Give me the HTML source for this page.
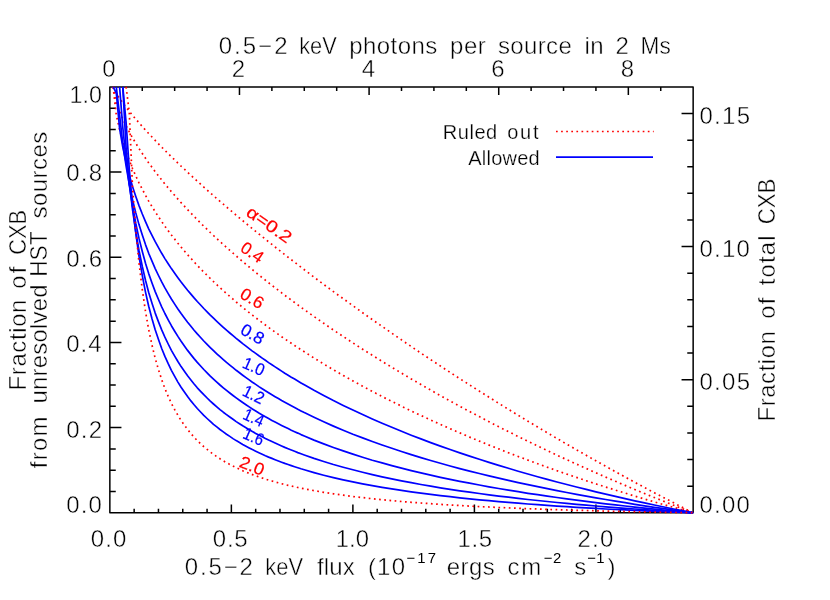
<!DOCTYPE html>
<html><head><meta charset="utf-8"><title>CXB fraction</title>
<style>html,body{margin:0;padding:0;background:#fff}body{width:830px;height:600px;overflow:hidden;font-family:"Liberation Sans",sans-serif}svg{display:block;will-change:transform}text{font-family:"Liberation Sans",sans-serif;fill:#000}.t{font-size:24px}.s{font-size:20px}.l{font-size:17px}.r{fill:#f00;stroke:#f00;stroke-width:.2}.b{fill:#00f;stroke:#00f;stroke-width:.2}</style></head><body>
<svg width="830" height="600" viewBox="0 0 830 600">
<rect width="830" height="600" fill="#fff"/>
<path d="M109.85,86.90H693.15V512.80H109.85ZM134.15,512.80v-4.10M158.46,512.80v-4.10M182.76,512.80v-4.10M207.07,512.80v-4.10M231.37,512.80v-8.20M255.68,512.80v-4.10M279.98,512.80v-4.10M304.28,512.80v-4.10M328.59,512.80v-4.10M352.89,512.80v-8.20M377.20,512.80v-4.10M401.50,512.80v-4.10M425.80,512.80v-4.10M450.11,512.80v-4.10M474.41,512.80v-8.20M498.72,512.80v-4.10M523.02,512.80v-4.10M547.33,512.80v-4.10M571.63,512.80v-4.10M595.93,512.80v-8.20M620.24,512.80v-4.10M644.54,512.80v-4.10M668.85,512.80v-4.10M142.26,86.90v4.10M174.66,86.90v4.10M207.07,86.90v4.10M239.47,86.90v8.20M271.88,86.90v4.10M304.28,86.90v4.10M336.69,86.90v4.10M369.09,86.90v8.20M401.50,86.90v4.10M433.91,86.90v4.10M466.31,86.90v4.10M498.72,86.90v8.20M531.12,86.90v4.10M563.53,86.90v4.10M595.93,86.90v4.10M628.34,86.90v8.20M660.74,86.90v4.10M109.85,512.80h11.60M109.85,491.50h5.90M109.85,470.21h5.90M109.85,448.91h5.90M109.85,427.62h11.60M109.85,406.32h5.90M109.85,385.03h5.90M109.85,363.73h5.90M109.85,342.44h11.60M109.85,321.14h5.90M109.85,299.85h5.90M109.85,278.55h5.90M109.85,257.26h11.60M109.85,235.96h5.90M109.85,214.67h5.90M109.85,193.38h5.90M109.85,172.08h11.60M109.85,150.78h5.90M109.85,129.49h5.90M109.85,108.19h5.90M109.85,86.90h11.60M693.15,512.80h-11.60M693.15,486.18h-5.90M693.15,459.56h-5.90M693.15,432.94h-5.90M693.15,406.32h-5.90M693.15,379.71h-11.60M693.15,353.09h-5.90M693.15,326.47h-5.90M693.15,299.85h-5.90M693.15,273.23h-5.90M693.15,246.61h-11.60M693.15,219.99h-5.90M693.15,193.37h-5.90M693.15,166.76h-5.90M693.15,140.14h-5.90M693.15,113.52h-11.60M693.15,86.90h-5.90" fill="none" stroke="#000" stroke-width="1.5" stroke-linejoin="round"/>
<g fill="none" stroke-width="1.7" stroke="#f00" stroke-dasharray="1.7 3.5" stroke-linejoin="round">
<path d="M113.1,86.9 116.3,93.8 119.6,98.5 122.8,103.0 126.1,107.2 129.3,111.3 132.5,115.3 135.8,119.1 139.0,122.8 142.3,126.5 145.5,130.1 148.7,133.6 152.0,137.0 155.2,140.4 158.5,143.8 161.7,147.1 164.9,150.4 168.2,153.6 171.4,156.8 174.7,159.9 177.9,163.1 181.1,166.2 184.4,169.2 187.6,172.3 190.9,175.3 194.1,178.3 197.3,181.2 200.6,184.2 203.8,187.1 207.1,190.0 210.3,192.9 213.5,195.7 216.8,198.6 220.0,201.4 223.3,204.2 226.5,207.0 229.8,209.7 233.0,212.5 236.2,215.2 239.5,218.0 242.7,220.7 246.0,223.4 249.2,226.0 252.4,228.7 255.7,231.4 258.9,234.0 262.2,236.6 265.4,239.2 268.6,241.8 271.9,244.4 275.1,247.0 278.4,249.6 281.6,252.1 284.8,254.7 288.1,257.2 291.3,259.7 294.6,262.2 297.8,264.7 301.0,267.2 304.3,269.7 314.0,277.1 323.7,284.4 333.4,291.6 343.2,298.7 352.9,305.7 362.6,312.7 372.3,319.6 382.1,326.4 391.8,333.2 401.5,339.9 411.2,346.5 420.9,353.1 430.7,359.6 440.4,366.0 450.1,372.4 459.8,378.7 469.6,384.9 479.3,391.1 489.0,397.2 498.7,403.3 508.4,409.3 518.2,415.3 527.9,421.2 537.6,427.0 547.3,432.8 557.0,438.5 566.8,444.2 576.5,449.8 586.2,455.3 595.9,460.8 605.7,466.3 615.4,471.7 625.1,477.0 634.8,482.3 644.5,487.5 654.3,492.7 664.0,497.8 673.7,502.8 683.4,507.9 693.1,512.8"/>
<path d="M113.1,86.9 116.3,103.0 119.6,111.5 122.8,119.0 126.1,125.7 129.3,131.9 132.5,137.8 135.8,143.2 139.0,148.5 142.3,153.5 145.5,158.2 148.7,162.9 152.0,167.3 155.2,171.7 158.5,175.9 161.7,180.0 164.9,184.0 168.2,187.9 171.4,191.7 174.7,195.4 177.9,199.1 181.1,202.7 184.4,206.2 187.6,209.7 190.9,213.1 194.1,216.4 197.3,219.7 200.6,223.0 203.8,226.2 207.1,229.3 210.3,232.5 213.5,235.5 216.8,238.6 220.0,241.6 223.3,244.5 226.5,247.4 229.8,250.3 233.0,253.2 236.2,256.0 239.5,258.8 242.7,261.6 246.0,264.3 249.2,267.0 252.4,269.7 255.7,272.4 258.9,275.0 262.2,277.6 265.4,280.2 268.6,282.8 271.9,285.3 275.1,287.8 278.4,290.3 281.6,292.8 284.8,295.3 288.1,297.7 291.3,300.1 294.6,302.5 297.8,304.9 301.0,307.3 304.3,309.6 314.0,316.5 323.7,323.3 333.4,330.0 343.2,336.5 352.9,342.9 362.6,349.2 372.3,355.3 382.1,361.4 391.8,367.3 401.5,373.1 411.2,378.9 420.9,384.5 430.7,390.1 440.4,395.6 450.1,401.0 459.8,406.3 469.6,411.5 479.3,416.6 489.0,421.7 498.7,426.7 508.4,431.6 518.2,436.5 527.9,441.3 537.6,446.0 547.3,450.6 557.0,455.2 566.8,459.7 576.5,464.1 586.2,468.5 595.9,472.8 605.7,477.1 615.4,481.3 625.1,485.4 634.8,489.5 644.5,493.5 654.3,497.5 664.0,501.4 673.7,505.3 683.4,509.1 693.1,512.8"/>
<path d="M113.1,86.9 116.3,115.1 119.6,129.5 122.8,141.3 126.1,151.4 129.3,160.4 132.5,168.5 135.8,175.9 139.0,182.8 142.3,189.3 145.5,195.3 148.7,201.1 152.0,206.6 155.2,211.8 158.5,216.8 161.7,221.6 164.9,226.2 168.2,230.7 171.4,235.0 174.7,239.1 177.9,243.2 181.1,247.1 184.4,251.0 187.6,254.7 190.9,258.3 194.1,261.9 197.3,265.4 200.6,268.8 203.8,272.1 207.1,275.3 210.3,278.5 213.5,281.6 216.8,284.7 220.0,287.7 223.3,290.6 226.5,293.5 229.8,296.4 233.0,299.2 236.2,302.0 239.5,304.7 242.7,307.4 246.0,310.0 249.2,312.6 252.4,315.1 255.7,317.7 258.9,320.1 262.2,322.6 265.4,325.0 268.6,327.4 271.9,329.8 275.1,332.1 278.4,334.4 281.6,336.7 284.8,338.9 288.1,341.1 291.3,343.3 294.6,345.5 297.8,347.6 301.0,349.7 304.3,351.8 314.0,358.0 323.7,364.0 333.4,369.8 343.2,375.4 352.9,380.9 362.6,386.2 372.3,391.4 382.1,396.5 391.8,401.4 401.5,406.2 411.2,410.9 420.9,415.5 430.7,420.0 440.4,424.4 450.1,428.7 459.8,432.9 469.6,437.1 479.3,441.1 489.0,445.1 498.7,448.9 508.4,452.7 518.2,456.5 527.9,460.1 537.6,463.7 547.3,467.2 557.0,470.7 566.8,474.1 576.5,477.4 586.2,480.7 595.9,483.9 605.7,487.0 615.4,490.1 625.1,493.1 634.8,496.1 644.5,499.0 654.3,501.9 664.0,504.7 673.7,507.4 683.4,510.1 693.1,512.8"/>
</g>
<g fill="none" stroke-width="1.7" stroke="#00f" stroke-linejoin="round">
<path d="M113.1,86.9 116.3,93.0 119.6,128.6 122.8,147.1 126.1,162.3 129.3,175.2 132.5,186.5 135.8,196.5 139.0,205.6 142.3,214.0 145.5,221.6 148.7,228.8 152.0,235.4 155.2,241.7 158.5,247.6 161.7,253.3 164.9,258.6 168.2,263.7 171.4,268.6 174.7,273.2 177.9,277.7 181.1,282.0 184.4,286.2 187.6,290.2 190.9,294.1 194.1,297.9 197.3,301.5 200.6,305.0 203.8,308.5 207.1,311.8 210.3,315.1 213.5,318.2 216.8,321.3 220.0,324.3 223.3,327.3 226.5,330.2 229.8,333.0 233.0,335.7 236.2,338.4 239.5,341.0 242.7,343.6 246.0,346.1 249.2,348.6 252.4,351.1 255.7,353.4 258.9,355.8 262.2,358.1 265.4,360.3 268.6,362.6 271.9,364.8 275.1,366.9 278.4,369.0 281.6,371.1 284.8,373.2 288.1,375.2 291.3,377.2 294.6,379.1 297.8,381.0 301.0,382.9 304.3,384.8 314.0,390.3 323.7,395.5 333.4,400.6 343.2,405.4 352.9,410.1 362.6,414.6 372.3,419.0 382.1,423.2 391.8,427.3 401.5,431.3 411.2,435.2 420.9,438.9 430.7,442.6 440.4,446.1 450.1,449.5 459.8,452.9 469.6,456.1 479.3,459.3 489.0,462.4 498.7,465.4 508.4,468.3 518.2,471.2 527.9,474.0 537.6,476.7 547.3,479.4 557.0,482.0 566.8,484.5 576.5,487.0 586.2,489.4 595.9,491.8 605.7,494.1 615.4,496.4 625.1,498.6 634.8,500.8 644.5,502.9 654.3,505.0 664.0,507.0 673.7,509.0 683.4,510.9 693.1,512.8"/>
<path d="M116.3,86.9 119.6,115.1 122.8,143.8 126.1,166.1 129.3,184.2 132.5,199.6 135.8,212.9 139.0,224.6 142.3,235.1 145.5,244.6 148.7,253.3 152.0,261.2 155.2,268.6 158.5,275.5 161.7,281.9 164.9,287.9 168.2,293.6 171.4,299.0 174.7,304.1 177.9,309.0 181.1,313.6 184.4,318.0 187.6,322.2 190.9,326.3 194.1,330.2 197.3,333.9 200.6,337.5 203.8,341.0 207.1,344.4 210.3,347.6 213.5,350.7 216.8,353.8 220.0,356.7 223.3,359.6 226.5,362.4 229.8,365.1 233.0,367.7 236.2,370.3 239.5,372.8 242.7,375.2 246.0,377.6 249.2,379.9 252.4,382.2 255.7,384.4 258.9,386.6 262.2,388.7 265.4,390.8 268.6,392.8 271.9,394.8 275.1,396.7 278.4,398.6 281.6,400.5 284.8,402.3 288.1,404.1 291.3,405.8 294.6,407.6 297.8,409.3 301.0,410.9 304.3,412.6 314.0,417.3 323.7,421.8 333.4,426.1 343.2,430.2 352.9,434.2 362.6,437.9 372.3,441.5 382.1,445.0 391.8,448.3 401.5,451.5 411.2,454.6 420.9,457.6 430.7,460.5 440.4,463.3 450.1,466.0 459.8,468.6 469.6,471.1 479.3,473.5 489.0,475.9 498.7,478.2 508.4,480.4 518.2,482.6 527.9,484.7 537.6,486.7 547.3,488.7 557.0,490.6 566.8,492.5 576.5,494.3 586.2,496.1 595.9,497.8 605.7,499.5 615.4,501.1 625.1,502.7 634.8,504.3 644.5,505.8 654.3,507.3 664.0,508.7 673.7,510.1 683.4,511.5 693.1,512.8"/>
<path d="M119.6,86.9 122.8,127.5 126.1,159.9 129.3,185.2 132.5,205.9 135.8,223.4 139.0,238.4 142.3,251.5 145.5,263.2 148.7,273.6 152.0,283.0 155.2,291.6 158.5,299.5 161.7,306.8 164.9,313.5 168.2,319.8 171.4,325.7 174.7,331.2 177.9,336.4 181.1,341.3 184.4,346.0 187.6,350.4 190.9,354.6 194.1,358.6 197.3,362.4 200.6,366.0 203.8,369.5 207.1,372.8 210.3,376.1 213.5,379.1 216.8,382.1 220.0,385.0 223.3,387.8 226.5,390.4 229.8,393.0 233.0,395.5 236.2,397.9 239.5,400.3 242.7,402.5 246.0,404.7 249.2,406.9 252.4,409.0 255.7,411.0 258.9,413.0 262.2,414.9 265.4,416.8 268.6,418.6 271.9,420.4 275.1,422.1 278.4,423.8 281.6,425.4 284.8,427.0 288.1,428.6 291.3,430.2 294.6,431.7 297.8,433.1 301.0,434.6 304.3,436.0 314.0,440.1 323.7,443.9 333.4,447.5 343.2,450.9 352.9,454.1 362.6,457.2 372.3,460.2 382.1,462.9 391.8,465.6 401.5,468.1 411.2,470.6 420.9,472.9 430.7,475.1 440.4,477.3 450.1,479.3 459.8,481.3 469.6,483.2 479.3,485.0 489.0,486.8 498.7,488.5 508.4,490.1 518.2,491.7 527.9,493.3 537.6,494.7 547.3,496.2 557.0,497.5 566.8,498.9 576.5,500.2 586.2,501.4 595.9,502.6 605.7,503.8 615.4,504.9 625.1,506.0 634.8,507.1 644.5,508.1 654.3,509.1 664.0,510.1 673.7,511.0 683.4,511.9 693.1,512.8"/>
<path d="M122.8,86.9 126.1,147.9 129.3,182.3 132.5,209.5 135.8,231.8 139.0,250.4 142.3,266.4 145.5,280.3 148.7,292.5 152.0,303.3 155.2,313.1 158.5,321.9 161.7,329.9 164.9,337.2 168.2,344.0 171.4,350.3 174.7,356.1 177.9,361.5 181.1,366.6 184.4,371.3 187.6,375.8 190.9,380.0 194.1,384.0 197.3,387.8 200.6,391.3 203.8,394.7 207.1,398.0 210.3,401.1 213.5,404.0 216.8,406.9 220.0,409.6 223.3,412.2 226.5,414.6 229.8,417.0 233.0,419.3 236.2,421.6 239.5,423.7 242.7,425.8 246.0,427.8 249.2,429.7 252.4,431.6 255.7,433.4 258.9,435.1 262.2,436.8 265.4,438.5 268.6,440.1 271.9,441.6 275.1,443.1 278.4,444.6 281.6,446.0 284.8,447.4 288.1,448.7 291.3,450.0 294.6,451.3 297.8,452.6 301.0,453.8 304.3,455.0 314.0,458.4 323.7,461.5 333.4,464.5 343.2,467.2 352.9,469.8 362.6,472.3 372.3,474.6 382.1,476.8 391.8,478.9 401.5,480.8 411.2,482.7 420.9,484.5 430.7,486.2 440.4,487.8 450.1,489.3 459.8,490.8 469.6,492.2 479.3,493.5 489.0,494.8 498.7,496.1 508.4,497.2 518.2,498.4 527.9,499.5 537.6,500.5 547.3,501.5 557.0,502.5 566.8,503.4 576.5,504.3 586.2,505.2 595.9,506.0 605.7,506.8 615.4,507.6 625.1,508.3 634.8,509.0 644.5,509.7 654.3,510.4 664.0,511.0 673.7,511.6 683.4,512.2 693.1,512.8"/>
<path d="M122.8,86.9 126.1,122.5 129.3,169.1 132.5,204.8 135.8,233.1 139.0,256.2 142.3,275.6 145.5,292.1 148.7,306.3 152.0,318.8 155.2,329.8 158.5,339.6 161.7,348.5 164.9,356.4 168.2,363.7 171.4,370.3 174.7,376.4 177.9,382.1 181.1,387.3 184.4,392.1 187.6,396.6 190.9,400.9 194.1,404.8 197.3,408.5 200.6,412.0 203.8,415.4 207.1,418.5 210.3,421.4 213.5,424.3 216.8,426.9 220.0,429.5 223.3,431.9 226.5,434.2 229.8,436.4 233.0,438.6 236.2,440.6 239.5,442.5 242.7,444.4 246.0,446.2 249.2,447.9 252.4,449.6 255.7,451.2 258.9,452.7 262.2,454.2 265.4,455.7 268.6,457.1 271.9,458.4 275.1,459.7 278.4,461.0 281.6,462.2 284.8,463.4 288.1,464.5 291.3,465.6 294.6,466.7 297.8,467.7 301.0,468.8 304.3,469.8 314.0,472.6 323.7,475.2 333.4,477.6 343.2,479.8 352.9,481.9 362.6,483.8 372.3,485.6 382.1,487.3 391.8,488.9 401.5,490.4 411.2,491.8 420.9,493.2 430.7,494.4 440.4,495.6 450.1,496.7 459.8,497.8 469.6,498.8 479.3,499.8 489.0,500.7 498.7,501.6 508.4,502.4 518.2,503.2 527.9,504.0 537.6,504.7 547.3,505.4 557.0,506.1 566.8,506.7 576.5,507.3 586.2,507.9 595.9,508.4 605.7,509.0 615.4,509.5 625.1,509.9 634.8,510.4 644.5,510.8 654.3,511.3 664.0,511.7 673.7,512.1 683.4,512.4 693.1,512.8"/>
</g>
<g fill="none" stroke-width="1.7" stroke="#f00" stroke-dasharray="1.7 3.5" stroke-linejoin="round">
<path d="M126.1,86.9 129.3,112.6 132.5,186.8 135.8,229.7 139.0,263.0 142.3,289.7 145.5,311.5 148.7,329.7 152.0,345.1 155.2,358.3 158.5,369.7 161.7,379.7 164.9,388.5 168.2,396.3 171.4,403.3 174.7,409.6 177.9,415.3 181.1,420.5 184.4,425.2 187.6,429.5 190.9,433.5 194.1,437.2 197.3,440.6 200.6,443.8 203.8,446.7 207.1,449.4 210.3,452.0 213.5,454.4 216.8,456.6 220.0,458.8 223.3,460.8 226.5,462.7 229.8,464.4 233.0,466.1 236.2,467.7 239.5,469.2 242.7,470.7 246.0,472.1 249.2,473.4 252.4,474.6 255.7,475.8 258.9,476.9 262.2,478.0 265.4,479.1 268.6,480.1 271.9,481.0 275.1,481.9 278.4,482.8 281.6,483.7 284.8,484.5 288.1,485.3 291.3,486.0 294.6,486.8 297.8,487.5 301.0,488.2 304.3,488.8 314.0,490.6 323.7,492.3 333.4,493.8 343.2,495.2 352.9,496.5 362.6,497.6 372.3,498.7 382.1,499.7 391.8,500.6 401.5,501.5 411.2,502.3 420.9,503.0 430.7,503.7 440.4,504.4 450.1,505.0 459.8,505.5 469.6,506.1 479.3,506.6 489.0,507.0 498.7,507.5 508.4,507.9 518.2,508.3 527.9,508.7 537.6,509.0 547.3,509.4 557.0,509.7 566.8,510.0 576.5,510.3 586.2,510.5 595.9,510.8 605.7,511.1 615.4,511.3 625.1,511.5 634.8,511.7 644.5,511.9 654.3,512.1 664.0,512.3 673.7,512.5 683.4,512.6 693.1,512.8"/>
</g>
<path d="M556,131.5H653.7" fill="none" stroke="#f00" stroke-width="1.7" stroke-dasharray="1.7 3.4"/>
<path d="M556,157.2H653" fill="none" stroke="#00f" stroke-width="1.7"/>
<g stroke="#fff" stroke-width="0.45">
<text class="t" x="218.66" y="54.1" letter-spacing="2.03">0.5−2</text>
<text class="t" x="299.23" y="54.1" textLength="37.56" lengthAdjust="spacingAndGlyphs">keV</text>
<text class="t" x="349.25" y="54.1" letter-spacing="0.43">photons</text>
<text class="t" x="450.05" y="54.1" letter-spacing="0.53">per</text>
<text class="t" x="498.03" y="54.1" letter-spacing="0.34">source</text>
<text class="t" x="584.39" y="54.1" letter-spacing="0.48">in</text>
<text class="t" x="615.53" y="54.1">2</text>
<text class="t" x="640.54" y="54.1" textLength="30.17" lengthAdjust="spacingAndGlyphs">Ms</text>
<text class="t" x="102.33" y="77.3">0</text>
<text class="t" x="231.78" y="77.3">2</text>
<text class="t" x="361.75" y="77.3">4</text>
<text class="t" x="491.34" y="77.3">6</text>
<text class="t" x="620.73" y="77.3">8</text>
<text class="t" x="90.86" y="546.5" letter-spacing="1.11">0.0</text>
<text class="t" x="212.76" y="546.5" letter-spacing="0.79">0.5</text>
<text class="t" x="335.78" y="546.5" textLength="33.15" lengthAdjust="spacingAndGlyphs">1.0</text>
<text class="t" x="457.47" y="546.5" letter-spacing="0.64">1.5</text>
<text class="t" x="577.49" y="546.5" letter-spacing="1.29">2.0</text>
<text class="t" x="69.53" y="102.9" textLength="32.38" lengthAdjust="spacingAndGlyphs">1.0</text>
<text class="t" x="66.16" y="181.2" letter-spacing="1.26">0.8</text>
<text class="t" x="66.16" y="266.6" letter-spacing="1.26">0.6</text>
<text class="t" x="66.16" y="352.4" letter-spacing="1.09">0.4</text>
<text class="t" x="66.16" y="437.5" letter-spacing="1.34">0.2</text>
<text class="t" x="66.16" y="513.4" letter-spacing="1.21">0.0</text>
<text class="t" x="699.46" y="123.8" letter-spacing="1.28">0.15</text>
<text class="t" x="699.46" y="256.6" letter-spacing="1.25">0.10</text>
<text class="t" x="699.46" y="389.5" letter-spacing="1.28">0.05</text>
<text class="t" x="699.46" y="513.4" letter-spacing="1.25">0.00</text>
<text class="t" x="184.86" y="575.1" letter-spacing="1.83">0.5−2</text>
<text class="t" x="265.33" y="575.1" textLength="37.67" lengthAdjust="spacingAndGlyphs">keV</text>
<text class="t" x="317.06" y="575.1" letter-spacing="0.08">flux</text>
<text class="t" x="367.91" y="575.1" letter-spacing="1.22">(10</text>
<text class="t" x="446.68" y="575.1" letter-spacing="0.50">ergs</text>
<text class="t" x="507.38" y="575.1" letter-spacing="1.91">cm</text>
<text class="t" x="574.15" y="575.1">s</text>
<text class="t" x="607.38" y="575.1">)</text>
<text class="t" transform="translate(25.6,388.50) rotate(-90)" x="-1.97" y="0" letter-spacing="0.60">Fraction</text>
<text class="t" transform="translate(25.6,287.70) rotate(-90)" x="-1.01" y="0" letter-spacing="2.06">of</text>
<text class="t" transform="translate(25.6,253.60) rotate(-90)" x="-1.11" y="0" textLength="44.86" lengthAdjust="spacingAndGlyphs">CXB</text>
<text class="t" transform="translate(46.7,467.80) rotate(-90)" x="-0.34" y="0" letter-spacing="1.21">from</text>
<text class="t" transform="translate(46.7,402.00) rotate(-90)" x="-1.56" y="0" letter-spacing="0.20">unresolved</text>
<text class="t" transform="translate(46.7,275.00) rotate(-90)" x="-1.86" y="0" textLength="45.38" lengthAdjust="spacingAndGlyphs">HST</text>
<text class="t" transform="translate(46.7,217.80) rotate(-90)" x="-0.67" y="0" letter-spacing="0.45">sources</text>
<text class="t" transform="translate(775.0,419.50) rotate(-90)" x="-1.97" y="0" letter-spacing="0.53">Fraction</text>
<text class="t" transform="translate(775.0,317.80) rotate(-90)" x="-1.01" y="0" letter-spacing="1.16">of</text>
<text class="t" transform="translate(775.0,284.90) rotate(-90)" x="-0.36" y="0" letter-spacing="1.15">total</text>
<text class="t" transform="translate(775.0,223.20) rotate(-90)" x="-1.13" y="0" textLength="45.60" lengthAdjust="spacingAndGlyphs">CXB</text>
</g>
<text font-size="14.9px" x="406.47" y="563.3" letter-spacing="2.17">−17</text>
<text font-size="14.9px" x="543.87" y="563.3" letter-spacing="0.42">−2</text>
<text font-size="14.9px" x="587.27" y="563.3" letter-spacing="0.40">−1</text>
<g stroke="#fff" stroke-width=".25">
<text class="s" x="442.86" y="138.9" letter-spacing="0.52">Ruled</text>
<text class="s" x="507.26" y="138.9" letter-spacing="1.74">out</text>
<text class="s" x="468.16" y="164.7" letter-spacing="0.25">Allowed</text>
</g>
<text class="l r" transform="translate(245.1,214.7) rotate(35.0)" textLength="51.0" lengthAdjust="spacingAndGlyphs">α=0.2</text>
<text class="l r" transform="translate(239.2,250.5) rotate(34.0)">0.4</text>
<text class="l r" transform="translate(238.8,297.0) rotate(31.6)" textLength="24.2" lengthAdjust="spacingAndGlyphs">0.6</text>
<text class="l b" transform="translate(239.2,333.0) rotate(30.0)" textLength="24.2" lengthAdjust="spacingAndGlyphs">0.8</text>
<text class="l b" transform="translate(241.2,367.3) rotate(23.5)" textLength="22.3" lengthAdjust="spacingAndGlyphs">1.0</text>
<text class="l b" transform="translate(241.2,395.0) rotate(26.0)" textLength="22.0" lengthAdjust="spacingAndGlyphs">1.2</text>
<text class="l b" transform="translate(241.7,418.6) rotate(24.0)" textLength="21.3" lengthAdjust="spacingAndGlyphs">1.4</text>
<text class="l b" transform="translate(241.7,437.8) rotate(23.5)" textLength="21.0" lengthAdjust="spacingAndGlyphs">1.6</text>
<text class="l r" transform="translate(238.2,466.6) rotate(21.5)" textLength="25.2" lengthAdjust="spacingAndGlyphs">2.0</text>
</svg></body></html>
